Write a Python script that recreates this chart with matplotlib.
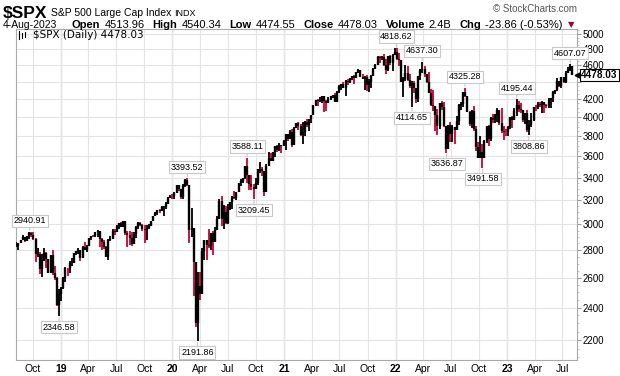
import matplotlib
matplotlib.use("Agg")
import matplotlib.pyplot as plt
import matplotlib.dates as mdates
from matplotlib.ticker import FixedLocator, NullFormatter
from matplotlib.lines import Line2D
import numpy as np
import pandas as pd

# Weekly bars (week ending Friday), 10-Aug-2018 .. 4-Aug-2023
close = [
    # 2018
    2833, 2850, 2875, 2902, 2872, 2904, 2930, 2914, 2886, 2767, 2768, 2659, 2723, 2781,
    2736, 2633, 2760, 2633, 2600, 2417, 2486,
    # 2019
    2532, 2596, 2671, 2665, 2707, 2708, 2776, 2793, 2804, 2743, 2822, 2800, 2834, 2893,
    2907, 2905, 2940, 2946, 2881, 2860, 2826, 2752, 2873, 2887, 2950, 2942, 2990, 3014,
    2977, 3026, 2932, 2919, 2889, 2847, 2926, 2979, 3007, 2992, 2962, 2952, 2970, 2986,
    3023, 3067, 3093, 3120, 3110, 3141, 3146, 3169, 3221, 3240,
    # 2020
    3235, 3265, 3330, 3295, 3226, 3328, 3380, 3338, 2954, 2972, 2711, 2305, 2541, 2489,
    2790, 2875, 2837, 2831, 2930, 2864, 2955, 3044, 3194, 3041, 3098, 3009, 3130, 3185,
    3225, 3216, 3271, 3351, 3373, 3397, 3508, 3427, 3341, 3319, 3298, 3348, 3477, 3484,
    3465, 3270, 3510, 3585, 3558, 3638, 3699, 3663, 3709, 3703, 3756,
    # 2021
    3825, 3768, 3841, 3714, 3887, 3935, 3907, 3811, 3842, 3943, 3913, 3975, 4020, 4129,
    4185, 4180, 4181, 4233, 4174, 4156, 4204, 4230, 4247, 4166, 4281, 4352, 4370, 4327,
    4412, 4395, 4437, 4468, 4442, 4509, 4535, 4459, 4433, 4455, 4357, 4391, 4471, 4545,
    4605, 4697, 4683, 4698, 4595, 4538, 4712, 4620, 4726, 4766,
    # 2022
    4677, 4662, 4398, 4432, 4501, 4419, 4349, 4385, 4329, 4204, 4463, 4543, 4546, 4488,
    4393, 4272, 4132, 4123, 4024, 3901, 4158, 4109, 3901, 3675, 3912, 3825, 3899, 3863,
    3962, 4130, 4145, 4280, 4228, 4057, 3924, 4067, 3873, 3693, 3586, 3640, 3583, 3753,
    3901, 3771, 3993, 3965, 4026, 4072, 3934, 3852, 3845, 3840,
    # 2023
    3895, 3999, 3973, 4071, 4136, 4090, 4079, 3970, 4046, 3862, 3917, 3971, 4109, 4105,
    4138, 4133, 4169, 4136, 4124, 4192, 4205, 4282, 4299, 4410, 4348, 4450, 4399, 4505,
    4536, 4582, 4478,
]
high = [
    2863, 2855, 2877, 2916, 2898, 2908, 2941, 2939, 2939, 2894, 2816, 2787, 2767, 2815,
    2782, 2717, 2760, 2800, 2685, 2607, 2520,
    2538, 2604, 2675, 2672, 2716, 2738, 2776, 2794, 2816, 2804, 2831, 2860, 2836, 2894,
    2910, 2918, 2940, 2954, 2932, 2892, 2875, 2833, 2885, 2905, 2964, 2959, 2996, 3014,
    3018, 3028, 3027, 2944, 2943, 2939, 2940, 2985, 3021, 3022, 3002, 2993, 2993, 3004,
    3027, 3067, 3098, 3120, 3127, 3154, 3150, 3182, 3226, 3248,
    3258, 3275, 3330, 3338, 3285, 3347, 3385, 3394, 3337, 3137, 2882, 2553, 2637, 2641,
    2818, 2880, 2871, 2964, 2933, 2945, 2980, 3068, 3212, 3233, 3156, 3155, 3165, 3186,
    3233, 3280, 3272, 3352, 3387, 3399, 3509, 3588, 3425, 3428, 3342, 3398, 3482, 3550,
    3501, 3466, 3529, 3646, 3628, 3645, 3705, 3712, 3727, 3712, 3760,
    3826, 3820, 3861, 3870, 3894, 3937, 3950, 3929, 3951, 3960, 3983, 3982, 4021, 4130,
    4192, 4194, 4219, 4238, 4236, 4188, 4219, 4234, 4249, 4262, 4287, 4356, 4372, 4393,
    4415, 4430, 4440, 4469, 4480, 4513, 4546, 4537, 4486, 4465, 4475, 4429, 4475, 4559,
    4608, 4718, 4707, 4718, 4743, 4672, 4713, 4731, 4741, 4808,
    4819, 4749, 4665, 4453, 4595, 4590, 4490, 4405, 4402, 4303, 4465, 4546, 4637, 4593,
    4471, 4513, 4308, 4307, 4081, 4090, 4159, 4178, 4168, 3838, 3913, 3950, 3918, 3893,
    4013, 4141, 4167, 4281, 4325, 4204, 4062, 4077, 4119, 3907, 3737, 3807, 3718, 3762,
    3905, 3911, 4001, 4028, 4034, 4101, 4052, 4101, 3906, 3873,
    3906, 4004, 4016, 4095, 4195, 4176, 4155, 4050, 4049, 4079, 3964, 4040, 4110, 4133,
    4163, 4169, 4171, 4170, 4143, 4213, 4212, 4290, 4299, 4448, 4400, 4458, 4456, 4527,
    4578, 4607, 4584,
]
low = [
    2825, 2802, 2853, 2878, 2864, 2873, 2886, 2903, 2874, 2710, 2750, 2628, 2603, 2722,
    2670, 2631, 2649, 2621, 2583, 2409, 2347,
    2444, 2524, 2570, 2612, 2634, 2681, 2703, 2764, 2774, 2722, 2743, 2800, 2785, 2848,
    2878, 2896, 2898, 2900, 2825, 2801, 2805, 2750, 2728, 2871, 2883, 2912, 2952, 2962,
    2975, 2977, 2914, 2822, 2840, 2834, 2856, 2891, 2964, 2985, 2946, 2856, 2874, 2963,
    2992, 3024, 3067, 3079, 3091, 3114, 3070, 3125, 3183, 3220,
    3212, 3214, 3263, 3280, 3214, 3214, 3316, 3328, 2855, 2902, 2478, 2281, 2192, 2447,
    2556, 2727, 2727, 2815, 2798, 2766, 2909, 2969, 3044, 2984, 2966, 3004, 2999, 3115,
    3127, 3207, 3204, 3270, 3324, 3355, 3387, 3350, 3293, 3292, 3209, 3324, 3331, 3440,
    3414, 3233, 3280, 3511, 3553, 3560, 3594, 3645, 3648, 3636, 3703,
    3663, 3750, 3780, 3694, 3725, 3885, 3866, 3805, 3723, 3804, 3894, 3853, 3940, 4020,
    4118, 4118, 4164, 4157, 4057, 4061, 4155, 4184, 4208, 4165, 4165, 4271, 4300, 4320,
    4233, 4360, 4383, 4415, 4367, 4448, 4507, 4457, 4428, 4306, 4288, 4278, 4329, 4470,
    4545, 4595, 4630, 4662, 4585, 4496, 4531, 4600, 4531, 4733,
    4662, 4582, 4395, 4223, 4406, 4402, 4329, 4115, 4262, 4157, 4162, 4424, 4507, 4450,
    4381, 4267, 4124, 4062, 3858, 3811, 3875, 4074, 3900, 3637, 3705, 3738, 3742, 3722,
    3880, 3911, 4080, 4108, 4218, 4057, 3907, 3887, 3856, 3648, 3584, 3585, 3492, 3647,
    3735, 3698, 3751, 3933, 3938, 3945, 3918, 3828, 3765, 3800,
    3802, 3877, 3886, 3966, 4013, 4060, 4047, 3943, 3928, 3847, 3809, 3900, 3960, 4069,
    4089, 4113, 4049, 4048, 4099, 4098, 4103, 4166, 4260, 4292, 4341, 4329, 4385, 4385,
    4505, 4528, 4475,
]

# Labelled swing highs / lows
ann_dates = ["2018-09-21", "2018-12-26", "2020-02-19", "2020-03-23", "2020-09-02",
             "2020-09-24", "2022-01-04", "2022-03-29", "2022-02-24", "2022-08-16",
             "2022-06-17", "2022-10-13", "2023-02-02", "2023-03-13", "2023-07-27"]
ann_values = [2940.91, 2346.58, 3393.52, 2191.86, 3588.11,
              3209.45, 4818.62, 4637.30, 4114.65, 4325.28,
              3636.87, 3491.58, 4195.44, 3808.86, 4607.07]
ann_above = [True, False, True, False, True,
             False, True, True, False, True,
             False, False, True, False, True]

last_close = 4478.03
y_ticks = list(range(2200, 5001, 200))
x_tick_dates = pd.date_range("2018-10-01", "2023-07-01", freq="QS")

W, H = 620, 376
RED = "#cc0033"
GRID = "#e4e4e4"
YEARGRID = "#c4c4c4"
FONT = "Liberation Sans"


def px(x, y):
    return x / W, 1 - y / H


fig = plt.figure(figsize=(W / 100, H / 100), dpi=100, facecolor="white")
ax = fig.add_axes([16 / W, 16 / H, (577 - 16) / W, (360 - 29) / H])
ax.set_yscale("log")
ax.set_ylim(2085, 5066)
ax.set_xlim(mdates.date2num(pd.Timestamp("2018-08-07")),
            mdates.date2num(pd.Timestamp("2023-08-18")))

dates = pd.date_range(end="2023-08-04", periods=len(close), freq="W-FRI")
xs = mdates.date2num(dates) - 2
c = np.array(close, float)
prev = np.r_[c[0], c[:-1]]
down = c < prev
cols = [RED if d else "black" for d in down]
ax.vlines(xs, low, high, colors=cols, linewidth=1.3, zorder=3)
ax.vlines(xs, np.minimum(prev, c), np.maximum(prev, c), colors="black",
          linewidth=1.7, zorder=4)

# grid
ax.yaxis.set_major_locator(FixedLocator(y_ticks))
ax.yaxis.set_minor_locator(FixedLocator(range(2100, 5051, 50)))
ax.yaxis.set_minor_formatter(NullFormatter())
# 4400 sits under the last-price flag
ax.set_yticklabels(["" if v == 4400 else str(v) for v in y_ticks])
ax.yaxis.tick_right()
ax.tick_params(axis="y", which="major", length=3, color="#999999", labelsize=7,
               pad=1, labelcolor="black")
ax.tick_params(axis="y", which="minor", length=1.5, color="#bbbbbb")
ax.set_xticks(mdates.date2num(x_tick_dates))
ax.set_xticklabels([f"{d.year % 100:02d}" if d.month == 1 else d.strftime("%b")
                    for d in x_tick_dates])
for lab, d in zip(ax.get_xticklabels(), x_tick_dates):
    lab.set_fontfamily(FONT)
    if d.month == 1:
        lab.set_fontweight("bold")
for lab in ax.get_yticklabels():
    lab.set_fontfamily(FONT)
ax.tick_params(axis="x", length=0, labelsize=7.5, pad=3)
ax.grid(True, which="major", color=GRID, linewidth=0.8, zorder=0)
for d in x_tick_dates:
    if d.month == 1:
        ax.axvline(mdates.date2num(d), color=YEARGRID, linewidth=0.9, zorder=1)
for s in ax.spines.values():
    s.set_color("#aaaaaa")
    s.set_linewidth(0.8)

# swing labels
for d, v, up in zip(ann_dates, ann_values, ann_above):
    dy = 8 if up else -8
    ax.annotate(f"{v:.2f}", xy=(mdates.date2num(pd.Timestamp(d)), v),
                xytext=(0, dy), textcoords="offset points", ha="center",
                va="center", fontsize=6.5, family=FONT, zorder=6,
                bbox=dict(boxstyle="square,pad=0.18", fc="white", ec="#c8c8c8",
                          lw=0.8),
                arrowprops=dict(arrowstyle="-", color="#c8c8c8", lw=0.8,
                                shrinkA=0, shrinkB=1))

# last price flag
ytr = ax.get_yaxis_transform()
ax.annotate(f"{last_close:.2f}", xy=(1.0, last_close), xycoords=ytr,
            xytext=(3, 0), textcoords="offset points", ha="left", va="center",
            fontsize=7.2, fontweight="bold", family=FONT, zorder=10,
            annotation_clip=False,
            bbox=dict(boxstyle="square,pad=0.12", fc="white", ec="black", lw=0.8))
ax.plot([1.0], [last_close], marker="<", markersize=3.5, color="black",
        transform=ytr, clip_on=False, zorder=11)

# in-plot legend
fig.text(*px(33, 35), f"$SPX (Daily) {last_close:.2f}", fontsize=7.5,
         family="DejaVu Sans", va="center", ha="left")
for i, (a, b) in enumerate([(31, 39), (33, 38), (32, 37)]):
    x0 = (19 + i * 3) / W
    fig.add_artist(Line2D([x0, x0], [1 - b / H, 1 - a / H], color="black", lw=0.8))

# header
fig.text(*px(3, 13), "$SPX", fontsize=12.5, fontweight="bold", family=FONT,
         va="center")
fig.text(*px(51, 13), "S&P 500 Large Cap Index", fontsize=7.5, family=FONT,
         va="center")
fig.text(*px(174, 13), "INDX", fontsize=6.5, family=FONT, va="center")
fig.text(*px(577, 9), "\u00a9 StockCharts.com", fontsize=7, color="#555555",
         family=FONT, va="center", ha="right")
fig.text(*px(3, 25), "4-Aug-2023", fontsize=7.5, family=FONT, va="center")
pieces = [("Open", True), ("4513.96", False), ("High", True), ("4540.34", False),
          ("Low", True), ("4474.55", False), ("Close", True), ("4478.03", False),
          ("Volume", True), ("2.4B", False), ("Chg", True), ("-23.86 (-0.53%)", False)]
fig.canvas.draw()
r = fig.canvas.get_renderer()
x = 72
for txt, bold in pieces:
    t = fig.text(*px(x, 25), txt, fontsize=8, family=FONT, va="center",
                 fontweight="bold" if bold else "normal")
    x += t.get_window_extent(r).width + (4 if bold else 8)
fig.text(*px(x - 3, 25), "\u25bc", fontsize=6, color="#990033", va="center",
         family="DejaVu Sans")

fig.savefig("out.png", dpi=100, facecolor="white")
